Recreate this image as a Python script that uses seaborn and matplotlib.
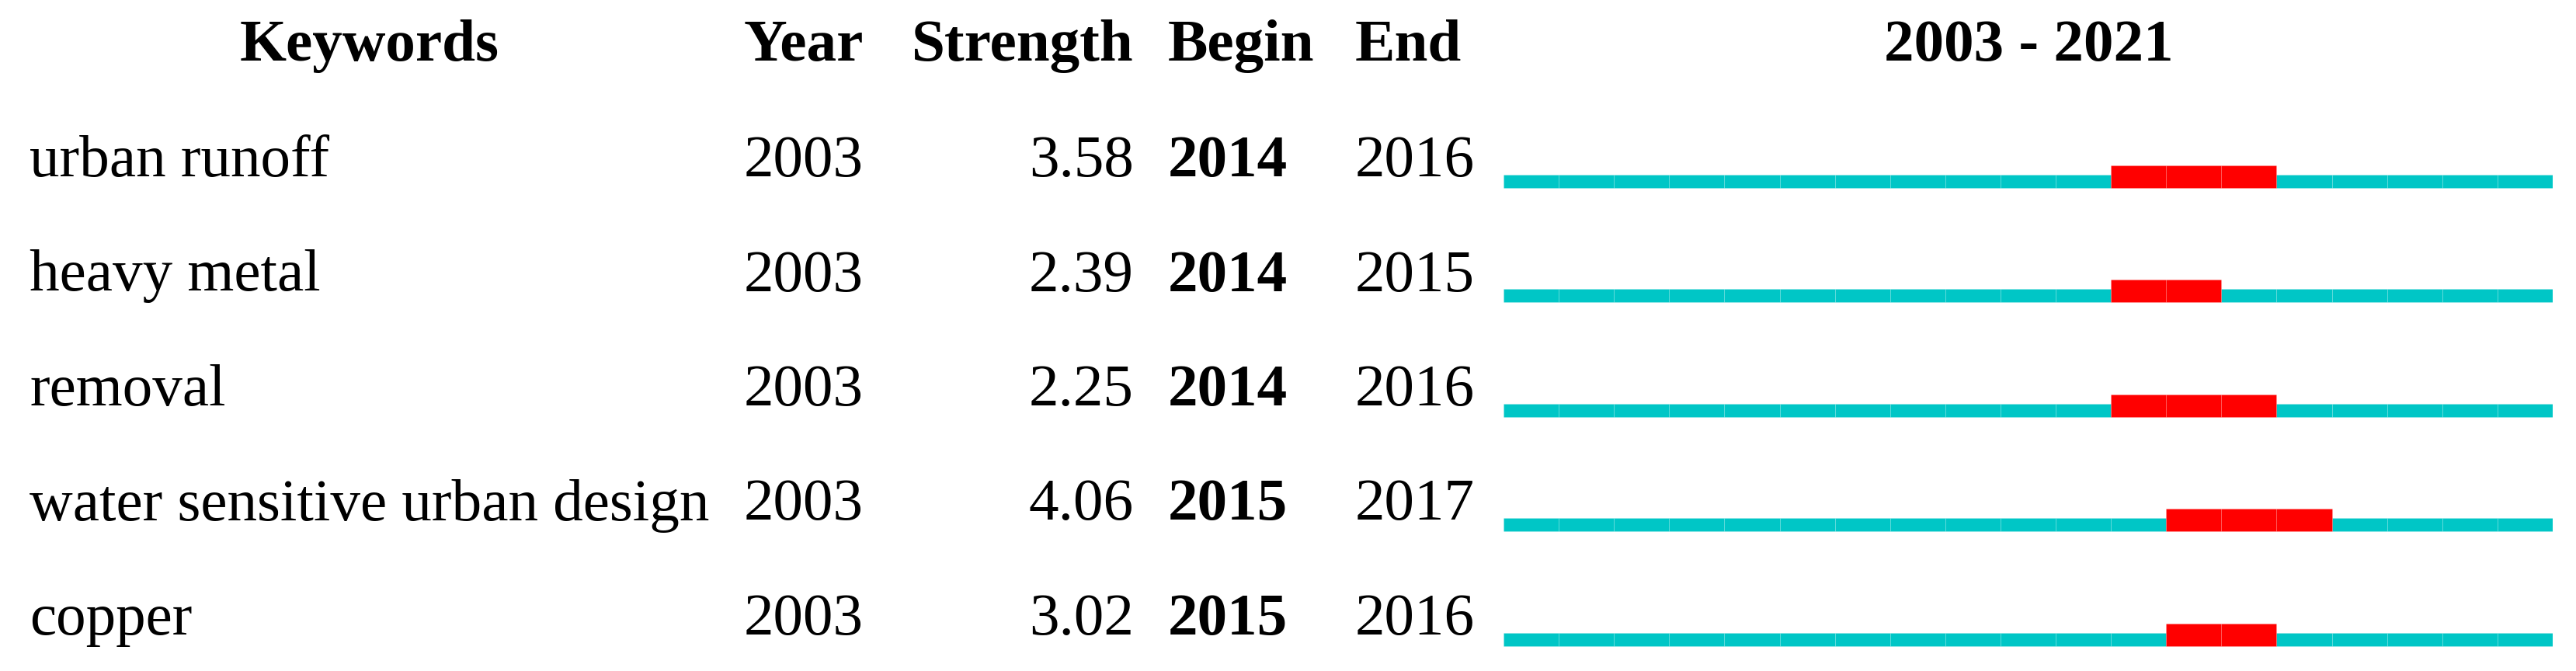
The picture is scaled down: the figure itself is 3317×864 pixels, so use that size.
import matplotlib.pyplot as plt
import seaborn as sns
import pandas as pd

# burst table values
keywords = ["urban runoff", "heavy metal", "removal", "water sensitive urban design", "copper"]
years = [2003, 2003, 2003, 2003, 2003]
strength = [3.58, 2.39, 2.25, 4.06, 3.02]
begin = [2014, 2014, 2014, 2015, 2015]
end = [2016, 2015, 2016, 2017, 2016]
first_year, last_year = 2003, 2021

sns.set_theme(style="white")
plt.rcParams['font.family'] = ['Liberation Serif', 'DejaVu Serif']
plt.rcParams['text.color'] = 'black'

df = pd.DataFrame({'Keywords': keywords, 'Year': years, 'Strength': strength,
                   'Begin': begin, 'End': end})

# one cell per keyword and year
cells = pd.DataFrame([
    {'row': i, 'year': y, 'burst': r.Begin <= y <= r.End}
    for i, r in df.iterrows() for y in range(first_year, last_year + 1)
])

W, H = 3317, 864
fig = plt.figure(figsize=(W / 100, H / 100), dpi=100)
fig.patch.set_facecolor('white')

# text layer in pixel units
tx = fig.add_axes([0, 0, 1, 1])
tx.set_xlim(0, W)
tx.set_ylim(H, 0)
tx.axis('off')

fs = 55.5
head_y = 78
row_y0, row_step = 227, 147.5

tx.text(476, head_y, "Keywords", ha='center', va='baseline', fontsize=fs, fontweight='bold')
tx.text(958, head_y, "Year", ha='left', va='baseline', fontsize=fs, fontweight='bold')
tx.text(1460, head_y, "Strength", ha='right', va='baseline', fontsize=fs, fontweight='bold')
tx.text(1504, head_y, "Begin", ha='left', va='baseline', fontsize=fs, fontweight='bold')
tx.text(1745, head_y, "End", ha='left', va='baseline', fontsize=fs, fontweight='bold')
tx.text(2612, head_y, f"{first_year} - {last_year}", ha='center', va='baseline',
        fontsize=fs, fontweight='bold')

for i, r in df.iterrows():
    yb = row_y0 + i * row_step
    tx.text(38, yb, r.Keywords, ha='left', va='baseline', fontsize=fs)
    tx.text(958, yb, str(r.Year), ha='left', va='baseline', fontsize=fs)
    tx.text(1460, yb, f"{r.Strength:.2f}", ha='right', va='baseline', fontsize=fs)
    tx.text(1504, yb, str(r.Begin), ha='left', va='baseline', fontsize=fs, fontweight='bold')
    tx.text(1745, yb, str(r.End), ha='left', va='baseline', fontsize=fs)

# timeline layer: x in years, y in rows
x0, x1 = 1936, 3287
ax = fig.add_axes([x0 / W, 0, (x1 - x0) / W, 1])
centre0 = 233
ax.set_ylim((H - centre0) / row_step, -centre0 / row_step)
ax.set_xlim(first_year, last_year + 1)
ax.axis('off')

cyan_h = 17 / row_step
red_h = 29 / row_step
red_off = -6 / row_step

base = cells[~cells.burst]
hot = cells[cells.burst]
ax.barh(base.row, 1, left=base.year, height=cyan_h, align='center',
        color='#00C6C6', edgecolor=(1, 1, 1, 0.15), linewidth=0.6)
ax.barh(hot.row + red_off, 1, left=hot.year, height=red_h, align='center',
        color='#FF0000', edgecolor=(1, 1, 1, 0.12), linewidth=0.6)

fig.savefig('out.png', dpi=100, facecolor='white')
